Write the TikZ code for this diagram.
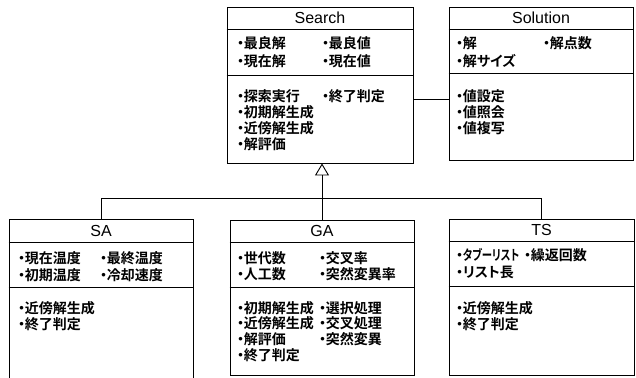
\documentclass[tikz,border=0pt]{standalone}
\usepackage{fontspec}
\setmainfont{Liberation Sans}
\newfontfamily\jp{Noto Sans CJK JP Bold}[RawFeature=+palt]
\usetikzlibrary{arrows.meta}
\newcommand\dt{\makebox[0.48em][c]{・}}
\tikzset{
  box/.style={draw, line width=0.9pt, rectangle, inner sep=0pt},
  sep/.style={line width=0.9pt},
  title/.style={font=\fontsize{16}{16}\selectfont, inner sep=0pt},
  item/.style={font=\jp\fontsize{14}{14}\selectfont, anchor=west, inner sep=0pt},
  conn/.style={line width=0.9pt},
}
\begin{document}
\begin{tikzpicture}[x=1pt,y=-1pt]
\useasboundingbox (0,0) rectangle (636,377);
% boxes
\node[box, minimum width=186pt, minimum height=156pt] (search) at (320,85) {};
\node[box, minimum width=184pt, minimum height=153pt] (solution) at (541,83.5) {};
\node[box, minimum width=184pt, minimum height=159pt] (sa) at (101,298.5) {};
\node[box, minimum width=184pt, minimum height=155pt] (ga) at (322,297.5) {};
\node[box, minimum width=185pt, minimum height=156pt] (ts) at (541.5,297) {};
% separators
\draw[sep] (search.west |- 0,29) -- (search.east |- 0,29);
\draw[sep] (search.west |- 0,75) -- (search.east |- 0,75);
\draw[sep] (solution.west |- 0,29) -- (solution.east |- 0,29);
\draw[sep] (solution.west |- 0,73) -- (solution.east |- 0,73);
\draw[sep] (sa.west |- 0,242) -- (sa.east |- 0,242);
\draw[sep] (sa.west |- 0,287) -- (sa.east |- 0,287);
\draw[sep] (ga.west |- 0,242) -- (ga.east |- 0,242);
\draw[sep] (ga.west |- 0,287) -- (ga.east |- 0,287);
\draw[sep] (ts.west |- 0,241) -- (ts.east |- 0,241);
\draw[sep] (ts.west |- 0,286) -- (ts.east |- 0,286);
% titles
\node[title] (searchT) at (320,18) {Search};
\node[title] (solutionT) at (541,18) {Solution};
\node[title] (saT) at (101,230.5) {SA};
\node[title] (gaT) at (322,231) {GA};
\node[title] (tsT) at (541.5,230) {TS};
% Search items
\node[item] (s1) at (237,43) {\dt 最良解};
\node[item] (s2) at (322,43) {\dt 最良値};
\node[item] (s3) at (237,61) {\dt 現在解};
\node[item] (s4) at (322,61) {\dt 現在値};
\node[item] (s5) at (237,96) {\dt 探索実行};
\node[item] (s6) at (322,96) {\dt 終了判定};
\node[item] (s7) at (237,112) {\dt 初期解生成};
\node[item] (s8) at (237,128) {\dt 近傍解生成};
\node[item] (s9) at (237,144) {\dt 解評価};
% Solution items
\node[item] (o1) at (456,43) {\dt 解};
\node[item] (o2) at (543,43) {\dt 解点数};
\node[item] (o3) at (456,61) {\dt 解サイズ};
\node[item] (o4) at (456,96) {\dt 値設定};
\node[item] (o5) at (456,112) {\dt 値照会};
\node[item] (o6) at (456,128) {\dt 値複写};
% SA items
\node[item] (a1) at (18,258) {\dt 現在温度};
\node[item] (a2) at (100,258) {\dt 最終温度};
\node[item] (a3) at (18,275) {\dt 初期温度};
\node[item] (a4) at (100,275) {\dt 冷却速度};
\node[item] (a5) at (18,308) {\dt 近傍解生成};
\node[item] (a6) at (18,324) {\dt 終了判定};
% GA items
\node[item] (g1) at (237,258) {\dt 世代数};
\node[item] (g2) at (319,258) {\dt 交叉率};
\node[item] (g3) at (237,274) {\dt 人工数};
\node[item] (g4) at (319,274) {\dt 突然変異率};
\node[item] (g5) at (237,308) {\dt 初期解生成};
\node[item] (g6) at (319,308) {\dt 選択処理};
\node[item] (g7) at (237,323) {\dt 近傍解生成};
\node[item] (g8) at (319,323) {\dt 交叉処理};
\node[item] (g9) at (237,339) {\dt 解評価};
\node[item] (g10) at (319,339) {\dt 突然変異};
\node[item] (g11) at (237,355) {\dt 終了判定};
% TS items
\node[item] (t1) at (456,255) {\dt\scalebox{0.74}[1]{タブーリスト}};
\node[item] (t2) at (524,255) {\dt 繰返回数};
\node[item] (t3) at (456,272) {\dt リスト長};
\node[item] (t4) at (456,308) {\dt 近傍解生成};
\node[item] (t5) at (456,324) {\dt 終了判定};
% connectors
\coordinate (j) at (0,198);
\coordinate (k) at (0,99);
\draw[conn] (search.east |- k) -- (solution.west |- k);
\draw[conn] (sa.north) -- (sa.north |- j) -- (ts.north |- j) -- (ts.north);
\draw[conn, -{Triangle[open, length=12pt, width=14pt]}] (ga.north) -- (ga.north |- search.south);
\end{tikzpicture}
\end{document}
